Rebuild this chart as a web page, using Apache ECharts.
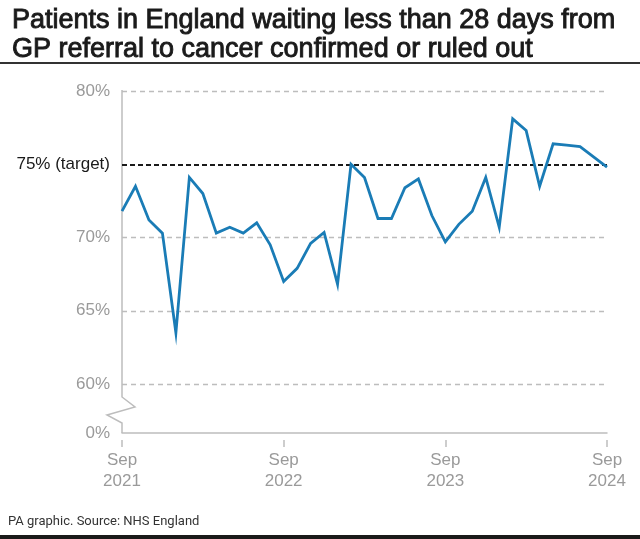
<!DOCTYPE html>
<html><head><meta charset="utf-8">
<script src="https://cdn.jsdelivr.net/npm/echarts@6/dist/echarts.min.js"></script>
<style>html,body{margin:0;padding:0;background:#fff}#c{width:640px;height:539px}</style>
</head><body><div id="c"></div>
<script>
const months = ['Sep 2021','Oct 2021','Nov 2021','Dec 2021','Jan 2022','Feb 2022','Mar 2022','Apr 2022','May 2022','Jun 2022','Jul 2022','Aug 2022',
 'Sep 2022','Oct 2022','Nov 2022','Dec 2022','Jan 2023','Feb 2023','Mar 2023','Apr 2023','May 2023','Jun 2023','Jul 2023','Aug 2023',
 'Sep 2023','Oct 2023','Nov 2023','Dec 2023','Jan 2024','Feb 2024','Mar 2024','Apr 2024','May 2024','Jun 2024','Jul 2024','Aug 2024','Sep 2024'];
const values = [71.8,73.5,71.2,70.3,63.5,74.1,73.0,70.3,70.7,70.3,71.0,69.5,
 67.0,67.9,69.6,70.35,66.8,75.0,74.1,71.3,71.3,73.4,74.0,71.5,
 69.7,70.9,71.8,74.1,70.7,78.1,77.3,73.5,76.4,76.3,76.2,75.5,74.8];
const gridValues = [60,65,70,80];
const targetValue = 75;
const yTickValues = [56.66,60,65,70,75,80];
const xTickMonths = ['Sep 2021','Sep 2022','Sep 2023','Sep 2024'];
const yBottom = 56.66;
const titleText = 'Patients in England waiting less than 28 days from\nGP referral to cancer confirmed or ruled out';
const sourceText = 'PA graphic. Source: NHS England';

const chart = echarts.init(document.getElementById('c'), null, {renderer:'canvas'});
const tickFont = 'Liberation Sans';
const showTick = (i, v) => xTickMonths.indexOf(v) >= 0;

const option = {
  animation:false,
  title:{text:titleText,left:7,top:1,textStyle:{fontFamily:'Liberation Sans',fontSize:27,fontWeight:'normal',lineHeight:29,color:'#1a1a1a',
    textBorderColor:'#1a1a1a',textBorderWidth:0.9}},
  grid:{left:122,right:33,top:91,bottom:106},
  xAxis:[{
    type:'category',data:months,boundaryGap:false,
    axisLine:{show:true,lineStyle:{color:'#bdbdbd',width:1.5}},
    axisTick:{show:false},axisLabel:{show:false},splitLine:{show:false}
  },{
    type:'category',data:months,boundaryGap:false,position:'bottom',offset:7,
    axisLine:{show:false},
    axisTick:{show:true,interval:showTick,length:7,lineStyle:{color:'#bdbdbd',width:1.5}},
    axisLabel:{show:true,interval:showTick,margin:10,color:'#9a9a9a',fontFamily:tickFont,fontSize:17,lineHeight:21,
      formatter:v=>v.replace(' ','\n')},
    splitLine:{show:false}
  }],
  yAxis:{
    type:'value',min:yBottom,max:80,
    axisLine:{show:false},axisTick:{show:false},splitLine:{show:false},
    axisLabel:{show:true,customValues:yTickValues,margin:12,color:'#9a9a9a',fontFamily:tickFont,fontSize:17,
      formatter:v=>{ if(v<59) return '0%'; if(Math.abs(v-targetValue)<0.01) return '{t|75% (target)}'; return Math.round(v)+'%'; },
      rich:{t:{color:'#1a1a1a',fontFamily:tickFont,fontSize:17}}}
  },
  series:[{
    type:'line',data:values,showSymbol:false,silent:true,z:1,
    lineStyle:{opacity:0},
    markLine:{silent:true,symbol:'none',label:{show:false},
      data:[
        ...gridValues.map(v=>({yAxis:v,lineStyle:{color:'#bdbdbd',type:[5,4],width:1.3}})),
        {yAxis:targetValue,lineStyle:{color:'#1a1a1a',type:[5,3],width:1.8}}
      ]}
  },{
    type:'line',data:values,showSymbol:false,z:5,
    lineStyle:{color:'#1a7cb6',width:2.8,join:'miter'}
  }]
};
chart.setOption(option);

const x0 = chart.convertToPixel({xAxisIndex:0}, months[0]);
const yTop = chart.convertToPixel({yAxisIndex:0}, 80);
const yBot = chart.convertToPixel({yAxisIndex:0}, yBottom);
const axisColor = '#bdbdbd';
chart.setOption({graphic:[
  {type:'polyline',silent:true,shape:{points:[[x0,yTop-1],[x0,yBot-36],[x0+13,yBot-26],[x0-15,yBot-18],[x0,yBot-10],[x0,yBot]]},
    style:{stroke:axisColor,lineWidth:1.5,fill:null}},
  {type:'rect',silent:true,shape:{x:0,y:62,width:640,height:2},style:{fill:'#333'}},
  {type:'text',silent:true,left:8,top:515,style:{text:sourceText,font:'400 13px Roboto',fill:'#333'}},
  {type:'rect',silent:true,shape:{x:0,y:535,width:640,height:4},style:{fill:'#1a1a1a'}}
]});
</script></body></html>
